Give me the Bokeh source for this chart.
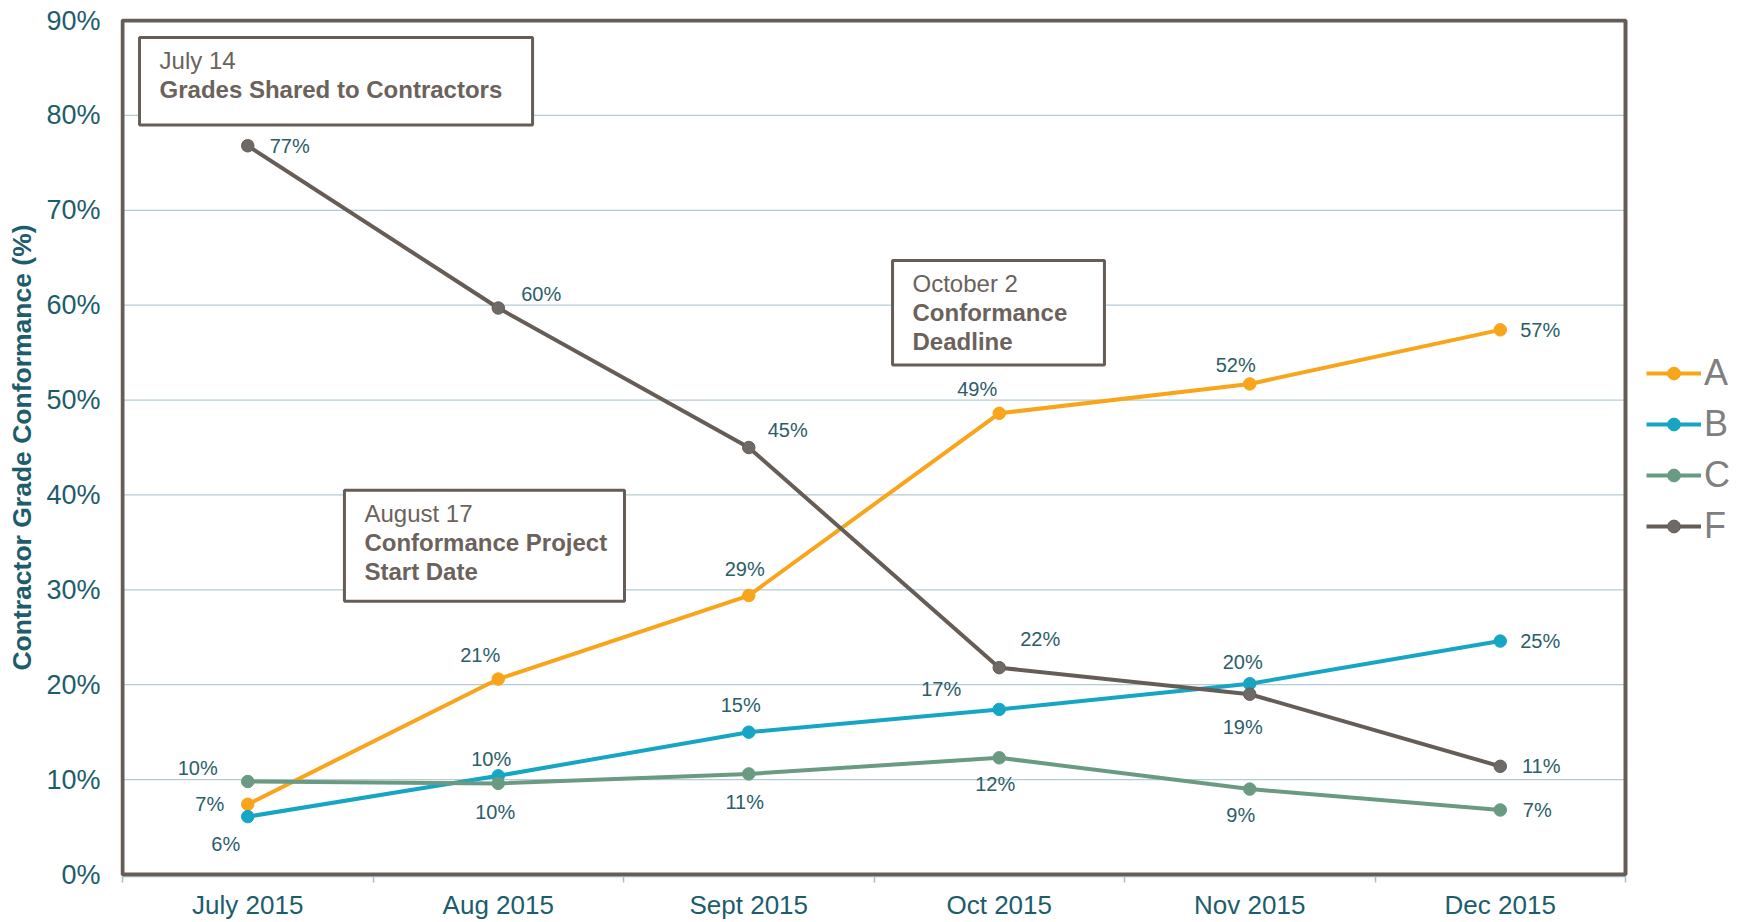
from bokeh.plotting import figure
from bokeh.models import Range1d, FixedTicker, PrintfTickFormatter, Legend, LegendItem, BoxAnnotation
from bokeh.core.properties import value
from bokeh.embed import file_html
from bokeh.resources import INLINE

# ---------------- data ----------------
months = ["July 2015", "Aug 2015", "Sept 2015", "Oct 2015", "Nov 2015", "Dec 2015"]
series_names = ["A", "B", "C", "F"]
grade_a = [7.4, 20.6, 29.4, 48.6, 51.7, 57.4]
grade_b = [6.1, 10.4, 15.0, 17.4, 20.1, 24.6]
grade_c = [9.8, 9.6, 10.6, 12.3, 9.0, 6.8]
grade_f = [76.8, 59.7, 45.0, 21.8, 19.0, 11.4]
y_ticks = [0, 10, 20, 30, 40, 50, 60, 70, 80, 90]
y_title = "Contractor Grade Conformance (%)"

note_dates = ["July 14", "October 2", "August 17"]
note_titles = [["Grades Shared to Contractors"],
               ["Conformance", "Deadline"],
               ["Conformance Project", "Start Date"]]

# ---------------- styles / layout ----------------
colors = ["#F9A51B", "#16A6C3", "#6B9A82", "#675D57"]
marker_fill = ["#F9A51B", "#16A6C3", "#6B9A82", "#6E6A68"]
label_offsets = [
    [(-38, 0), (-18, -24), (-4, -27), (-22, -24), (-14, -19), (40, 0)],
    [(-22, 27), (-7, -17), (-8, -27), (-58, -20), (-7, -22), (40, 0)],
    [(-50, -14), (-3, 29), (-4, 28), (-4, 26), (-9, 26), (37, 0)],
    [(42, 0), (43, -14), (39, -18), (41, -29), (-7, 33), (41, 0)],
]
# note boxes: (left, right, bottom, top) in axis units
note_boxes = [(-0.432, 1.137, 79.0, 88.2),
              (2.574, 3.420, 53.7, 64.7),
              (0.386, 1.504, 28.8, 40.5)]

FONT = "Liberation Sans"
TEAL = "#1D5D6B"
LABEL_TEAL = "#2A5E69"
BROWN = "#675D57"
NOTE_TEXT = "#6B625C"

# plotting box is 1503 x 854 px; the frame is padded by 2px around it and
# extended to the right edge so the legend can sit beside the box
X0, X1, Y0, Y1 = -0.5, 5.5, 0, 90
PX_X = (X1 - X0) / 1503.0
PX_Y = (Y1 - Y0) / 854.0
PAD = 2
LEFT = 120
FRAME_W = 1742 - LEFT
FRAME_H = 854 + 2 * PAD
x_start = X0 - PAD * PX_X

p = figure(frame_width=FRAME_W, frame_height=FRAME_H, output_backend="svg",
           toolbar_location=None,
           x_range=Range1d(x_start, x_start + FRAME_W * PX_X),
           y_range=Range1d(Y0 - PAD * PX_Y, Y1 + PAD * PX_Y),
           min_border_left=LEFT, min_border_top=18, min_border_bottom=0,
           min_border_right=0)
p.outline_line_color = None
p.background_fill_color = "white"
p.border_fill_color = "white"

# grid (only across the plotting box)
p.xgrid.grid_line_color = None
p.ygrid.grid_line_color = None
p.segment(x0=[X0] * len(y_ticks), x1=[X1] * len(y_ticks), y0=y_ticks, y1=y_ticks,
          line_color="#B3CCD3", line_width=1.3)

# y axis
p.yaxis.ticker = FixedTicker(ticks=y_ticks)
p.yaxis.formatter = PrintfTickFormatter(format="%d%%")
p.yaxis.axis_line_color = None
p.yaxis.major_tick_line_color = None
p.yaxis.minor_tick_line_color = None
p.yaxis.major_tick_out = 0
p.yaxis.major_label_text_font = FONT
p.yaxis.major_label_text_font_size = "27px"
p.yaxis.major_label_text_color = TEAL
p.yaxis.major_label_standoff = 20
p.yaxis.axis_label = y_title
p.yaxis.axis_label_text_font = FONT
p.yaxis.axis_label_text_font_size = "26.5px"
p.yaxis.axis_label_text_font_style = "bold"
p.yaxis.axis_label_text_color = TEAL
p.yaxis.axis_label_standoff = 6

# x axis
xs = list(range(len(months)))
p.xaxis.ticker = FixedTicker(ticks=xs, minor_ticks=[i - 0.5 for i in range(len(months) + 1)])
p.xaxis.bounds = (X0, X1)
p.xaxis.major_label_overrides = {i: m for i, m in enumerate(months)}
p.xaxis.major_tick_line_color = None
p.xaxis.major_tick_out = 0
p.xaxis.major_tick_in = 0
p.xaxis.minor_tick_line_color = "#A9C0C8"
p.xaxis.minor_tick_line_width = 1.5
p.xaxis.minor_tick_out = 6
p.xaxis.minor_tick_in = 0
p.xaxis.axis_line_color = "#A9C0C8"
p.xaxis.axis_line_width = 1.5
p.xaxis.major_label_text_font = FONT
p.xaxis.major_label_text_font_size = "26px"
p.xaxis.major_label_text_color = TEAL
p.xaxis.major_label_standoff = 7

# note boxes
for (l, r, b, t), date, titles in zip(note_boxes, note_dates, note_titles):
    p.quad(left=[l], right=[r], bottom=[b], top=[t], fill_color="white",
           line_color=BROWN, line_width=3)
    p.text(x=[l], y=[t], text=[date], x_offset=20, y_offset=23,
           text_font=value(FONT), text_font_size="24px", text_color=NOTE_TEXT,
           text_align="left", text_baseline="middle")
    for i, line in enumerate(titles):
        p.text(x=[l], y=[t], text=[line], x_offset=20, y_offset=52 + 29 * i,
               text_font=value(FONT), text_font_size="24px", text_font_style="bold",
               text_color=NOTE_TEXT, text_align="left", text_baseline="middle")

# series
items = []
for name, vals, col, mfill, offs in zip(series_names, [grade_a, grade_b, grade_c, grade_f],
                                        colors, marker_fill, label_offsets):
    rl = p.line(xs, vals, line_color=col, line_width=4)
    rs = p.scatter(xs, vals, size=12.5, fill_color=mfill, line_color=col, line_width=1)
    items.append(LegendItem(label=name, renderers=[rl, rs]))
    p.text(x=xs, y=vals, text=[f"{round(v)}%" for v in vals],
           x_offset=[o[0] for o in offs], y_offset=[o[1] for o in offs],
           text_font=value(FONT), text_font_size="20px", text_color=LABEL_TEAL,
           text_align="center", text_baseline="middle")

# plot-box border
p.add_layout(BoxAnnotation(left=X0, right=X1, bottom=Y0, top=Y1, fill_alpha=0,
                           line_color=BROWN, line_alpha=1.0, line_width=4))

legend = Legend(items=items, location=(1526, 329))
legend.label_text_font = FONT
legend.label_text_font_size = "36px"
legend.label_text_color = "#7F7F7F"
legend.glyph_width = 55
legend.glyph_height = 32
legend.label_standoff = 3
legend.spacing = 9
legend.margin = 0
legend.padding = 8
legend.border_line_color = None
legend.background_fill_alpha = 0
p.add_layout(legend, "center")

open("out.html", "w").write(file_html(p, INLINE))
